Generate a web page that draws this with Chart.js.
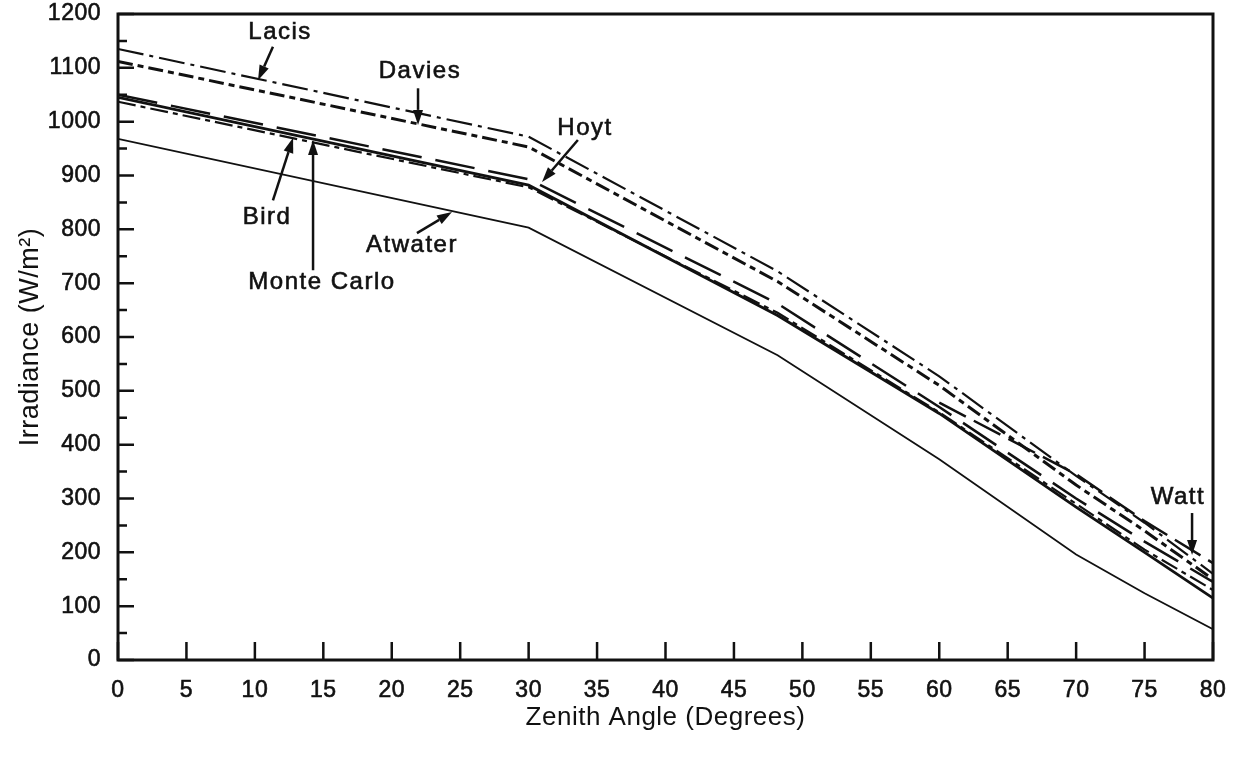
<!DOCTYPE html>
<html>
<head>
<meta charset="utf-8">
<title>Irradiance vs Zenith Angle</title>
<script src="https://cdn.jsdelivr.net/npm/chart.js@4.4.1/dist/chart.umd.min.js"></script>
<style>
  html, body { margin: 0; padding: 0; background: #fff; }
  canvas { display: block; }
</style>
</head>
<body>
<canvas id="irradiance" width="1243" height="758"></canvas>
<script>
// zenith angles at which the models were evaluated (degrees)
var angles = [0, 30, 48.19, 60, 70, 75, 80];

// global horizontal irradiance for each model (W/m2)
var lacis      = [1135, 972, 722, 527, 342, 255, 160];
var davies     = [1112, 953, 703, 510, 325, 240, 150];
var hoyt       = [1050, 893, 662, 470, 300, 220, 145];
var bird       = [1037, 878, 645, 460, 290, 205, 130];
var monteCarlo = [1045, 882, 640, 458, 284, 200, 115];
var watt       = [null, null, null, 478, 345, 258, 180];
var atwater    = [968, 803, 566, 373, 196, 124, 57];

// axis ticks
var xTicks = [0, 5, 10, 15, 20, 25, 30, 35, 40, 45, 50, 55, 60, 65, 70, 75, 80];
var yTicks = [0, 100, 200, 300, 400, 500, 600, 700, 800, 900, 1000, 1100, 1200];
var yMinorTicks = [50, 150, 250, 350, 450, 550, 650, 750, 850, 950, 1050, 1150];

// curve labels with their arrows, in data units
var notes = [
    { text: 'Lacis',       at: [11.84, 1166], from: [11.32, 1139], to: [10.23, 1077] },
    { text: 'Davies',      at: [22.06, 1094], from: [21.92, 1062], to: [21.92, 994] },
    { text: 'Hoyt',        at: [34.12, 988],  from: [33.60, 966],  to: [30.98, 888] },
    { text: 'Bird',        at: [10.89, 823],  from: [11.32, 854],  to: [12.79, 970] },
    { text: 'Monte Carlo', at: [14.90, 702],  from: [14.25, 724],  to: [14.25, 966] },
    { text: 'Atwater',     at: [21.48, 771],  from: [21.84, 793],  to: [24.40, 832] },
    { text: 'Watt',        at: [77.44, 303],  from: [78.47, 273],  to: [78.47, 195] }
];

function points(values) {
    return angles.map(function (a, i) { return { x: a, y: values[i] }; });
}

function curve(label, values, width, dash) {
    return {
        label: label,
        data: points(values),
        borderColor: '#111',
        borderWidth: width,
        borderDash: dash,
        pointRadius: 0,
        fill: false,
        tension: 0
    };
}

var FONT = '"Liberation Sans", Arial, sans-serif';
Chart.defaults.font.family = FONT;
Chart.defaults.font.size = 23;
Chart.defaults.color = '#111';

// Frame, inward tick marks and curve labels
var decorations = {
    id: 'decorations',
    beforeDraw: function (chart) {
        chart.ctx.letterSpacing = '0.5px';
    },
    afterDatasetsDraw: function (chart) {
        var ctx = chart.ctx, a = chart.chartArea;
        var xs = chart.scales.x, ys = chart.scales.y;
        ctx.save();
        ctx.strokeStyle = '#111';
        ctx.lineCap = 'butt';

        ctx.lineWidth = 2.5;
        ctx.beginPath();
        xTicks.forEach(function (v) {
            var px = xs.getPixelForValue(v);
            ctx.moveTo(px, a.bottom);
            ctx.lineTo(px, a.bottom - 18);
        });
        yTicks.forEach(function (v) {
            var py = ys.getPixelForValue(v);
            ctx.moveTo(a.left, py);
            ctx.lineTo(a.left + 16, py);
        });
        yMinorTicks.forEach(function (v) {
            var py = ys.getPixelForValue(v);
            ctx.moveTo(a.left, py);
            ctx.lineTo(a.left + 9, py);
        });
        ctx.stroke();

        ctx.lineWidth = 3;
        ctx.strokeRect(a.left, a.top, a.right - a.left, a.bottom - a.top);

        ctx.fillStyle = '#111';
        ctx.font = '24px ' + FONT;
        ctx.letterSpacing = '1.5px';
        ctx.textAlign = 'center';
        ctx.textBaseline = 'middle';
        notes.forEach(function (n) {
            var tx = xs.getPixelForValue(n.at[0]), ty = ys.getPixelForValue(n.at[1]);
            ctx.lineWidth = 0.6;
            ctx.strokeText(n.text, tx, ty);
            ctx.fillText(n.text, tx, ty);

            var x0 = xs.getPixelForValue(n.from[0]), y0 = ys.getPixelForValue(n.from[1]);
            var x1 = xs.getPixelForValue(n.to[0]), y1 = ys.getPixelForValue(n.to[1]);
            var ang = Math.atan2(y1 - y0, x1 - x0);
            var head = 15, half = 5;
            var bx = x1 - head * Math.cos(ang), by = y1 - head * Math.sin(ang);
            ctx.lineWidth = 2.5;
            ctx.beginPath();
            ctx.moveTo(x0, y0);
            ctx.lineTo(bx, by);
            ctx.stroke();
            ctx.beginPath();
            ctx.moveTo(x1, y1);
            ctx.lineTo(bx + half * Math.sin(ang), by - half * Math.cos(ang));
            ctx.lineTo(bx - half * Math.sin(ang), by + half * Math.cos(ang));
            ctx.closePath();
            ctx.fill();
        });
        ctx.restore();
    }
};

new Chart(document.getElementById('irradiance'), {
    type: 'line',
    data: {
        datasets: [
            curve('Lacis', lacis, 2.2, [26, 6, 4, 6]),
            curve('Davies', davies, 3, [15, 5, 6, 5]),
            curve('Hoyt', hoyt, 2.5, [40, 14]),
            curve('Bird', bird, 2.2, [18, 5, 5, 5]),
            curve('Monte Carlo', monteCarlo, 2.8, []),
            curve('Watt', watt, 2.5, [30, 9]),
            curve('Atwater', atwater, 1.8, [])
        ]
    },
    options: {
        responsive: false,
        animation: false,
        devicePixelRatio: 1,
        layout: { padding: { top: 14, right: 30, left: 0, bottom: 0 } },
        plugins: {
            legend: { display: false },
            tooltip: { enabled: false }
        },
        scales: {
            x: {
                type: 'linear',
                min: 0,
                max: 80,
                grid: { display: false, drawTicks: false },
                border: { display: false },
                afterBuildTicks: function (scale) {
                    scale.ticks = xTicks.map(function (v) { return { value: v }; });
                },
                afterFit: function (scale) {
                    scale.height = 98;
                    scale.paddingLeft = 0;
                    scale.paddingRight = 0;
                },
                ticks: {
                    padding: 17, maxRotation: 0, autoSkip: false,
                    textStrokeColor: '#111', textStrokeWidth: 0.6,
                    callback: function (v) { return String(v); }
                },
                title: {
                    display: true,
                    text: 'Zenith Angle (Degrees)',
                    font: { size: 26 },
                    padding: { top: 0, bottom: 25 }
                }
            },
            y: {
                type: 'linear',
                min: 0,
                max: 1200,
                grid: { display: false, drawTicks: false },
                border: { display: false },
                afterBuildTicks: function (scale) {
                    scale.ticks = yTicks.map(function (v) { return { value: v }; });
                },
                afterFit: function (scale) {
                    scale.width = 118;
                    scale.paddingTop = 0;
                    scale.paddingBottom = 0;
                },
                ticks: {
                    padding: 17, autoSkip: false,
                    textStrokeColor: '#111', textStrokeWidth: 0.6,
                    callback: function (v) { return String(v); }
                },
                title: {
                    display: true,
                    text: 'Irradiance (W/m\u00b2)',
                    font: { size: 27 },
                    padding: { top: 14, bottom: 0 }
                }
            }
        }
    },
    plugins: [decorations]
});
</script>
</body>
</html>
